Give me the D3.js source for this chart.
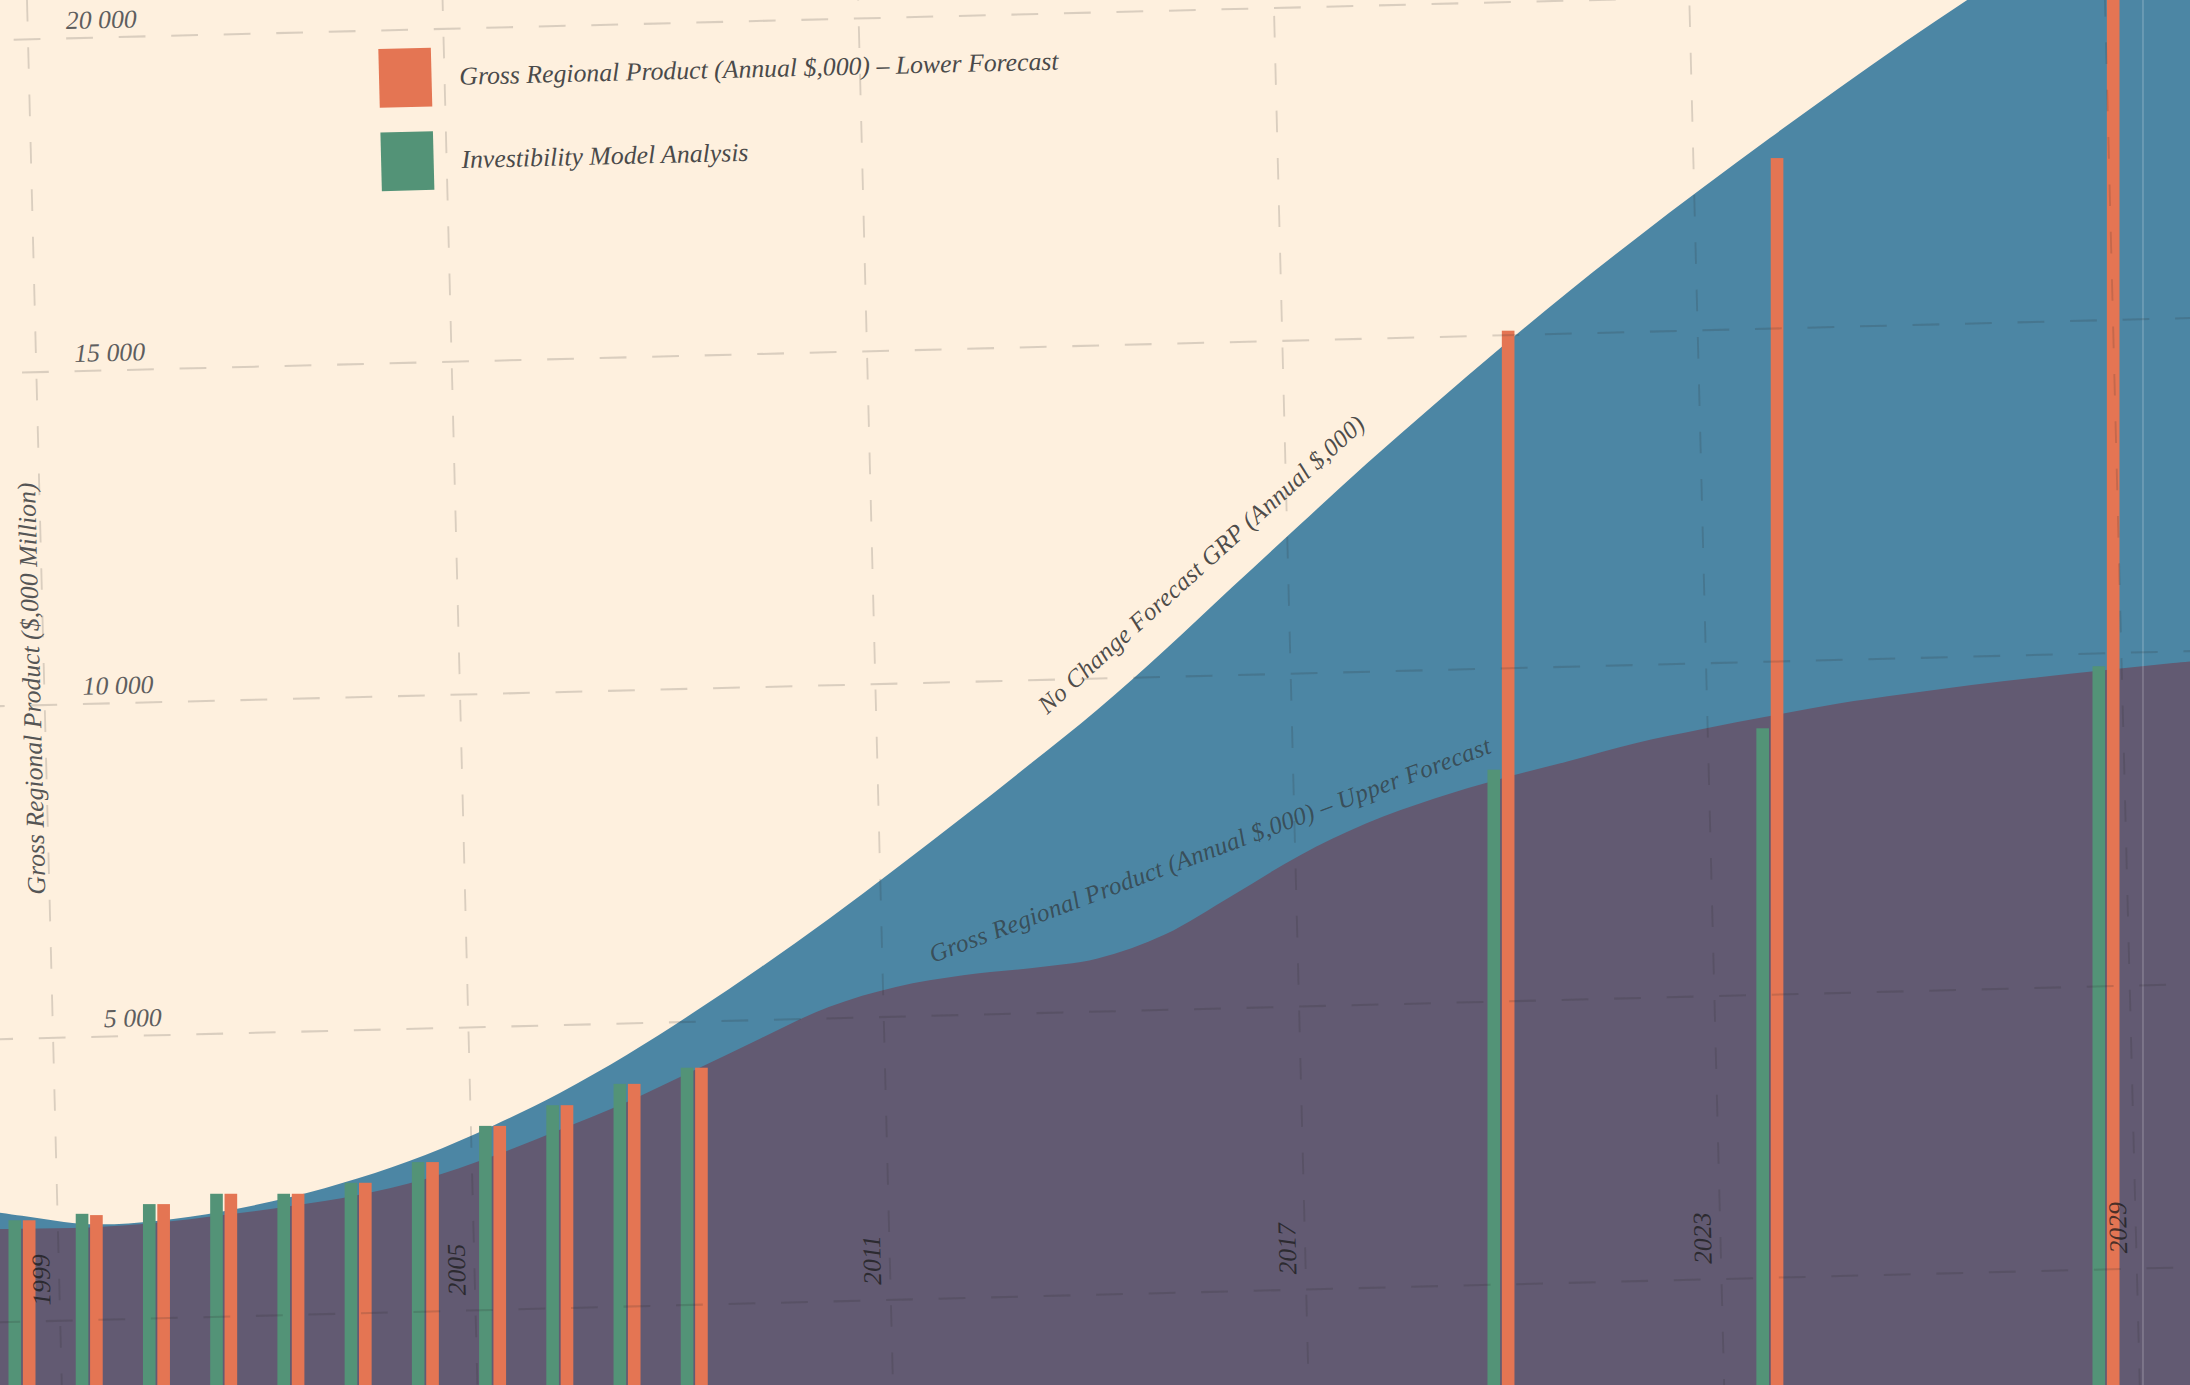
<!DOCTYPE html>
<html>
<head>
<meta charset="utf-8">
<script src="https://cdn.jsdelivr.net/npm/d3@7"></script>
<style>
  html, body { margin: 0; padding: 0; background: #fef0de; }
  svg { display: block; }
  text { font-family: "Liberation Serif", "DejaVu Serif", serif; font-style: italic; }
</style>
</head>
<body>
<div id="chart"></div>
<script>
// area series (annual, $,000 million)
var areaYears = [1997, 1998, 1999, 2000, 2001, 2002, 2003, 2004, 2005, 2006, 2007, 2008, 2009, 2010, 2011, 2012, 2013, 2014,
                 2015, 2016, 2017, 2018, 2019, 2020, 2021, 2022, 2023, 2024, 2025, 2026, 2027, 2028, 2029, 2030, 2031];
var noChangeGRP = [3000, 2850, 2720, 2770, 2920, 3140, 3430, 3790, 4240, 4750, 5340, 6000, 6700, 7440, 8220, 9020, 9840, 10680,
                   11600, 12570, 13530, 14480, 15390, 16280, 17140, 17960, 18750, 19520, 20270, 21000, 21700, 22390, 23060, 23700, 24320];
var upperForecast = [2630, 2650, 2670, 2740, 2860, 3000, 3170, 3420, 3770, 4180, 4610, 5100, 5600, 6080, 6390, 6570, 6680, 6830,
                     7200, 7800, 8420, 8920, 9300, 9610, 9880, 10160, 10380, 10580, 10770, 10920, 11060, 11180, 11290, 11400, 11490];

// bar series
var barYears = [1998, 1999, 2000, 2001, 2002, 2003, 2004, 2005, 2006, 2007, 2008, 2020, 2024, 2029];
var investibility = [2780, 2880, 3030, 3190, 3190, 3360, 3680, 4240, 4560, 4890, 5140, 9750, 10390, 11350];
var lowerForecast = [2780, 2860, 3030, 3190, 3190, 3360, 3680, 4240, 4560, 4890, 5140, 16540, 19210, 23500];

// axis ticks
var gridYears = [1999, 2005, 2011, 2017, 2023, 2029];
var gridValues = [5000, 10000, 15000, 20000];
var axisFloor = 750;

var legendLabels = ["Gross Regional Product (Annual $,000) \u2013 Lower Forecast", "Investibility Model Analysis"];
var seriesNames = ["lower", "invest"];

var colors = {
    bg: "#fef0de",
    noChange: "#4c86a4",
    upper: "#625a72",
    invest: "#539377",
    lower: "#e47553"
};

var W = 2190, H = 1385;

var x = d3.scaleLinear().domain([1998, 2029]).range([22, 2106]);
var y = d3.scaleLinear().domain([0, 20000]).range([1400, 107]);

// two bars per year
var inner = d3.scaleBand().domain(["invest", "lower"]).range([-13.5, 13.5]).paddingInner(0.12);

var svg = d3.select("#chart").append("svg")
    .attr("width", W).attr("height", H);

svg.append("rect").attr("width", W).attr("height", H).attr("fill", colors.bg);

var noChangeRows = areaYears.map(function(yr, i) { return { year: yr, v: noChangeGRP[i] }; });
var upperRows = areaYears.map(function(yr, i) { return { year: yr, v: upperForecast[i] }; });

var area = d3.area()
    .x(function(d) { return x(d.year); })
    .y0(y(0))
    .y1(function(d) { return y(d.v); })
    .curve(d3.curveCatmullRom.alpha(0.5));

svg.append("path").datum(noChangeRows).attr("d", area).attr("fill", colors.noChange);
svg.append("path").datum(upperRows).attr("d", area).attr("fill", colors.upper);

// right edge of plot
var edgeX = x(barYears[barYears.length - 1] + 0.55);
svg.append("line")
    .attr("x1", edgeX).attr("x2", edgeX).attr("y1", 0).attr("y2", H)
    .attr("stroke", "#fff").attr("stroke-opacity", 0.22).attr("stroke-width", 1.5);

// bars
var barRows = [];
barYears.forEach(function(yr, i) {
    barRows.push({ year: yr, key: "invest", v: investibility[i] });
    barRows.push({ year: yr, key: "lower", v: lowerForecast[i] });
});

svg.append("g").selectAll("rect")
    .data(barRows)
    .enter().append("rect")
    .attr("x", function(d) { return x(d.year) + inner(d.key); })
    .attr("width", inner.bandwidth())
    .attr("y", function(d) { return y(d.v); })
    .attr("height", function(d) { return y(0) - y(d.v); })
    .attr("fill", function(d) { return colors[d.key]; });

// grid + axis text sits in a slightly tilted layer
var grid = svg.append("g")
    .attr("transform", "translate(-66.66,-68.52) rotate(-1.44) scale(1.03)");

grid.selectAll(".vline")
    .data(gridYears)
    .enter().append("line")
    .attr("class", "vline")
    .attr("x1", function(d) { return x(d); })
    .attr("x2", function(d) { return x(d); })
    .attr("y1", y(-2500))
    .attr("y2", y(26000))
    .attr("stroke", "#2a2a2a").attr("stroke-opacity", 0.17)
    .attr("stroke-width", 1.8)
    .attr("stroke-dasharray", "21 25");

grid.selectAll(".hline")
    .data([axisFloor].concat(gridValues))
    .enter().append("line")
    .attr("class", "hline")
    .attr("x1", x(1995))
    .attr("x2", x(2032))
    .attr("y1", function(d) { return y(d); })
    .attr("y2", function(d) { return y(d); })
    .attr("stroke", "#2a2a2a").attr("stroke-opacity", 0.17)
    .attr("stroke-width", 2)
    .attr("stroke-dasharray", "26 25");

var fmt = function(v) { return d3.format(",")(v).replace(/,/g, " "); };

grid.selectAll(".ylab")
    .data(gridValues)
    .enter().append("text")
    .attr("class", "ylab")
    .attr("x", x(gridYears[0]) + 106)
    .attr("y", function(d) { return y(d) - 9; })
    .attr("text-anchor", "end")
    .attr("font-size", 25)
    .attr("fill", "#5e5e5e")
    .text(fmt);

grid.selectAll(".xlab")
    .data(gridYears)
    .enter().append("text")
    .attr("class", "xlab")
    .attr("transform", function(d) {
        return "translate(" + (x(d) - 9) + "," + (y(axisFloor) - 15) + ") rotate(-90)";
    })
    .attr("font-size", 25)
    .attr("fill", "#1a1a1a").attr("fill-opacity", 0.75)
    .text(function(d) { return d; });

// y axis title
var midY = (y(gridValues[gridValues.length - 1]) + y(axisFloor)) / 2 + 8;
grid.append("text")
    .attr("transform", "translate(" + (x(gridYears[0]) - 4) + "," + midY + ") rotate(-90)")
    .attr("text-anchor", "middle")
    .attr("font-size", 25)
    .attr("fill", "#555")
    .text("Gross Regional Product ($,000 Million)");

// legend
var legend = grid.append("g").attr("transform", "translate(429,125)");
var item = legend.selectAll("g")
    .data(legendLabels)
    .enter().append("g")
    .attr("transform", function(d, i) { return "translate(0," + (i * 81) + ")"; });
item.append("rect")
    .attr("width", 51).attr("height", 57)
    .attr("fill", function(d, i) { return colors[seriesNames[i]]; });
item.append("text")
    .attr("x", 78).attr("y", 28.5).attr("dy", "0.32em")
    .attr("font-size", 25)
    .attr("fill", "#4a4a4a")
    .text(function(d) { return d; });

// curve labels
var i2013 = areaYears.indexOf(2013), i2011 = areaYears.indexOf(2011);
svg.append("text")
    .attr("transform", "translate(" + x(2013.25) + "," + (y(noChangeGRP[i2013]) - 49) + ") rotate(-42.1)")
    .attr("font-size", 25).attr("letter-spacing", 0.3)
    .attr("fill", "#2e2e2e").attr("fill-opacity", 0.85)
    .text("No Change Forecast GRP (Annual $,000)");

svg.append("text")
    .attr("transform", "translate(" + x(2011.55) + "," + (y(upperForecast[i2011]) - 24) + ") rotate(-20.6)")
    .attr("font-size", 25).attr("letter-spacing", 0.3)
    .attr("fill", "#2e2e2e").attr("fill-opacity", 0.65)
    .text("Gross Regional Product (Annual $,000) \u2013 Upper Forecast");
</script>
</body>
</html>
